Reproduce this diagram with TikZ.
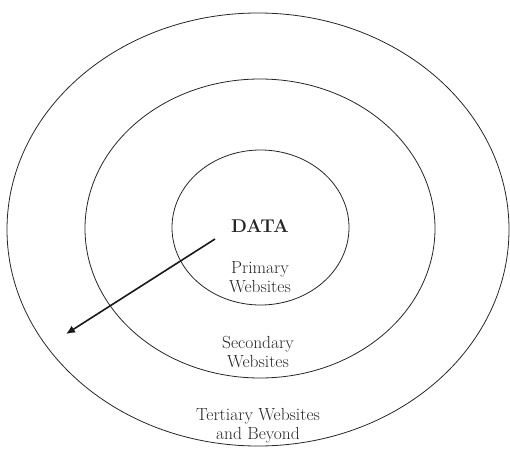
\documentclass[tikz,border=0pt]{standalone}
\usetikzlibrary{arrows.meta}
\begin{document}
\begin{tikzpicture}[x=1pt,y=-1pt,
  ring/.style={draw=black!85,line width=0.8pt},
  lbl/.style={font=\fontsize{17.5}{19}\selectfont,text=black!85,align=center,inner sep=0pt},
  arr/.style={draw=black!90,line width=1.6pt,-{Latex[length=9pt,width=8pt]}}]
\useasboundingbox (0,0) rectangle (510,449);
\draw[ring] (258,229.5) ellipse [x radius=251,y radius=216.5];
\draw[ring] (260,228.5) ellipse [x radius=175,y radius=149.5];
\draw[ring] (260.5,227.5) ellipse [x radius=88.5,y radius=77.5];
\node[lbl,font=\fontsize{18.5}{19}\selectfont\bfseries] (data) at (260,226) {DATA};
\node[lbl] (prim) at (260,277) {Primary\\Websites};
\node[lbl] (sec) at (258,352) {Secondary\\Websites};
\node[lbl] (ter) at (258,426) {Tertiary Websites\\and Beyond};
\coordinate (s) at (215,239);
\coordinate (e) at (66,334);
\draw[arr] (s) -- (e);
\end{tikzpicture}
\end{document}
